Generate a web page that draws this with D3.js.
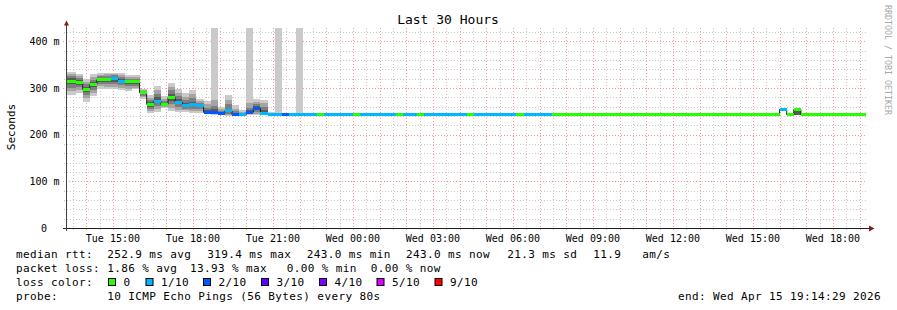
<!DOCTYPE html>
<html><head><meta charset="utf-8">
<script src="https://cdn.jsdelivr.net/npm/d3@7"></script>
<style>
body{margin:0;background:#fff}
svg{display:block}
text{font-family:"DejaVu Sans Mono",monospace;fill:#000}
</style>
</head><body>
<svg id="c" width="897" height="310"></svg>
<script>
// ---------------- data ----------------
const chartTitle = "Last 30 Hours";
const yLabel = "Seconds";
const watermark = "RRDTOOL / TOBI OETIKER";
const yTickValues = [0, 100, 200, 300, 400];           // ms
const yTickLabels = ["0", "100 m", "200 m", "300 m", "400 m"];
const xTickLabels = ["Tue 15:00","Tue 18:00","Tue 21:00","Wed 00:00","Wed 03:00",
                     "Wed 06:00","Wed 09:00","Wed 12:00","Wed 15:00","Wed 18:00"];
const lossLabels = ["0","1/10","2/10","3/10","4/10","5/10","9/10"];
const lossColors = ["#26ff00","#00b8ff","#0059ff","#5e00ff","#7e00ff","#dd00ff","#ff0000"];
const rttLegend = ["median rtt:", "252.9 ms avg", "319.4 ms max", "243.0 ms min", "243.0 ms now", "21.3 ms sd", "11.9   am/s"];
const lossLegend = ["packet loss:", "1.86 % avg", "13.93 % max", "0.00 % min", "0.00 % now"];
const probeLegend = ["probe:", "10 ICMP Echo Pings (56 Bytes) every 80s"];
const endLabel = "end: Wed Apr 15 19:14:29 2026";

// 16-minute steps, first step (index 0) = step -1 starting Tue 13:04
const firstStepIndex = -1;
const medianMs = [
  315,315,312,297,307,318,318,319.4,315,313,
  313,290,265,272,265,280,270,263,265,263,
  248,248,246,251,243,243,248,257,245,243,
  243,243,243,243,243,243,
  243,243,243,243,243,243,243,243,243,243,
  243,243,243,243,243,243,243,243,243,243,
  243,243,243,243,243,243,243,243,243,243,
  243,243,243,243,243,243,243,243,243,243,
  243,243,243,243,243,243,243,243,243,243,
  243,243,243,243,243,243,243,243,243,243,
  243,243,243,243,243,254,243,254,243,243,
  243,243,243,243,243,243,243,243
];
const lossLevel = [
  0,0,0,0,0,0,0,1,1,0,
  0,0,0,1,0,0,1,1,1,1,
  2,2,2,1,2,1,2,2,1,1,
  1,2,1,1,1,1,
  0,1,1,1,1,0,1,1,1,1,
  1,0,1,1,0,1,1,1,1,1,
  1,0,1,1,1,1,1,1,0,1,
  1,1,1,0,0,0,0,0,0,0,
  0,0,0,0,0,0,0,0,0,0,
  0,0,0,0,0,0,0,0,0,0,
  0,0,0,0,0,1,0,0,0,0,
  0,0,0,0,0,0,0,0
];
// smoke: sorted ping times (ms) for the steps that have visible smoke
const smokeStep = [-1,0,1,2,3,4,5,6,7,8,9,10,11,12,13,14,15,16,17,18,19,20,21,22,23,24,25,26,27,28,29,30,32,93,102];
const p1  = [285,285,290,271,283,299,297,297,296,294,297,276,247,249,257,251,249,249,246,246,244,243,242,241,242,242,243,242,242,242,243,243,243,243,243];
const p2  = [293,293,296,279,290,304,302,303,301,299,301,280,251,255,259,258,254,252,251,250,245,244,243,243,242,242,244,245,243,242,243,243,243,243,243];
const p3  = [300,300,302,286,296,309,308,309,306,304,305,283,255,261,261,266,260,256,256,255,246,245,244,245,243,243,245,249,244,243,243,243,243,243,243];
const p4  = [308,308,307,292,302,314,313,314,311,309,309,287,260,267,263,273,265,260,261,259,247,246,245,248,243,243,246,253,244,243,243,243,243,243,243];
const p7  = [321,321,318,303,313,322,322,324,319,317,317,293,270,280,268,288,276,268,271,266,253,255,248,256,246,245,252,261,252,244,244,243,243,243,254];
const p8  = [325,325,322,308,318,325,326,327,323,320,320,294,274,288,272,295,282,274,279,269,258,262,251,265,250,247,258,266,260,245,245,244,244,243,254];
const p9  = [330,330,326,313,324,329,330,330,327,324,324,295,279,296,277,302,289,281,287,272,265,275,255,275,256,249,268,271,268,247,247,245,245,243,254];
const p10 = [335,335,330,319,330,332,333,332,332,328,328,298,285,304,284,310,297,289,296,276,273,900,260,285,264,252,900,276,275,249,900,246,900,246,254];

// ---------------- layout ----------------
const svg = d3.select("#c");
const W = 897, H = 310;
const plot = {left: 66, right: 866, top: 28, bottom: 228};
const end = new Date(2026, 3, 15, 19, 14, 29);
const start = new Date(end.getTime() - 30 * 3600 * 1000);
const stepOrigin = new Date(2026, 3, 14, 13, 20, 0);
const STEP = 16 * 60 * 1000;
const stepTime = k => new Date(stepOrigin.getTime() + k * STEP);

const x = d3.scaleTime().domain([start, end]).range([plot.left, plot.right]);
const y = d3.scaleLinear().domain([0, 428.7]).range([plot.bottom, plot.top]);

svg.append("rect").attr("width", W).attr("height", H).attr("fill", "#fff");

svg.append("defs").append("clipPath").attr("id", "clip")
  .append("rect").attr("x", plot.left).attr("y", plot.top)
  .attr("width", plot.right - plot.left).attr("height", plot.bottom - plot.top);

// ---------------- grid ----------------
const grid = svg.append("g");
const minorV = d3.timeMinute.every(30).range(start, end).filter(d => d.getMinutes() === 30);
const majorV = d3.timeHour.every(1).range(start, end);
const minorH = d3.range(20, 429, 20).filter(v => v % 100 !== 0);
const majorH = [100, 200, 300, 400];
const px = v => Math.round(v) + 0.5;
grid.selectAll(".mv").data(minorV).enter().append("line")
  .attr("x1", d => px(x(d))).attr("x2", d => px(x(d)))
  .attr("y1", plot.top).attr("y2", plot.bottom + 2)
  .attr("stroke", "#c8c8c8").attr("stroke-dasharray", "1,2");
grid.selectAll(".mh").data(minorH).enter().append("line")
  .attr("x1", plot.left - 2).attr("x2", plot.right)
  .attr("y1", d => px(y(d))).attr("y2", d => px(y(d)))
  .attr("stroke", "#c8c8c8").attr("stroke-dasharray", "1,2");
grid.selectAll(".Mv").data(majorV).enter().append("line")
  .attr("x1", d => px(x(d))).attr("x2", d => px(x(d)))
  .attr("y1", plot.top).attr("y2", plot.bottom + 3)
  .attr("stroke", "#f09a9a").attr("stroke-dasharray", "1,2");
grid.selectAll(".Mh").data(majorH).enter().append("line")
  .attr("x1", plot.left - 3).attr("x2", plot.right)
  .attr("y1", d => px(y(d))).attr("y2", d => px(y(d)))
  .attr("stroke", "#f09a9a").attr("stroke-dasharray", "1,2");

// ---------------- smoke ----------------
const g = svg.append("g").attr("clip-path", "url(#clip)");
const bands = [
  {lo: p1, hi: p10, color: "#cacaca"},
  {lo: p2, hi: p9,  color: "#a4a4a4"},
  {lo: p3, hi: p8,  color: "#7e7e7e"},
  {lo: p4, hi: p7,  color: "#585858"}
];
bands.forEach(b => {
  g.append("g").selectAll("rect").data(smokeStep).enter().append("rect")
    .attr("x", k => x(stepTime(k)))
    .attr("width", k => x(stepTime(k + 1)) - x(stepTime(k)))
    .attr("y", (k, i) => y(b.hi[i]))
    .attr("height", (k, i) => Math.max(0, y(b.lo[i]) - y(b.hi[i])))
    .attr("fill", b.color).attr("shape-rendering", "crispEdges");
});

// ---------------- median line ----------------
const steps = medianMs.map((m, i) => ({k: i + firstStepIndex, m, loss: lossLevel[i]}));
const linePts = steps.map(s => [x(stepTime(s.k)), y(s.m)]);
linePts.push([x(stepTime(steps[steps.length - 1].k + 1)), y(steps[steps.length - 1].m)]);
g.append("path").attr("d", d3.line().curve(d3.curveStepAfter)(linePts))
  .attr("fill", "none").attr("stroke", "#202020").attr("stroke-width", 1);

g.append("g").selectAll("rect").data(steps).enter().append("rect")
  .attr("x", s => x(stepTime(s.k)))
  .attr("width", s => x(stepTime(s.k + 1)) - x(stepTime(s.k)))
  .attr("y", s => y(s.m) - 1.5).attr("height", 3)
  .attr("fill", s => lossColors[s.loss]).attr("shape-rendering", "crispEdges");

// ---------------- axes ----------------
const ax = svg.append("g");
ax.append("line").attr("x1", plot.left - 3).attr("x2", 869).attr("y1", 228.5).attr("y2", 228.5)
  .attr("stroke", "#222");
ax.append("line").attr("x1", 66.5).attr("x2", 66.5).attr("y1", 231).attr("y2", 25)
  .attr("stroke", "#444");
ax.append("path").attr("d", "M64,25.5L69,25.5L66.5,20.5Z").attr("fill", "#7f1f1f");
ax.append("path").attr("d", "M869,225.5L869,231.5L874.5,228.5Z").attr("fill", "#7f1f1f");

ax.selectAll(".yt").data(yTickValues).enter().append("text")
  .attr("x", (d, i) => i === 0 ? 47 : 59.5).attr("y", d => y(d) + 3.6)
  .attr("text-anchor", "end").attr("font-size", "10px").attr("xml:space", "preserve")
  .text((d, i) => yTickLabels[i]);

const xTickDates = xTickLabels.map((t, i) => new Date(2026, 3, 14, 15 + 3 * i, 0, 0));
ax.selectAll(".xt").data(xTickDates).enter().append("text")
  .attr("x", d => x(d)).attr("y", 241.5)
  .attr("text-anchor", "middle").attr("font-size", "10px")
  .text((d, i) => xTickLabels[i]);

// titles
svg.append("text").attr("x", 448).attr("y", 24).attr("text-anchor", "middle")
  .attr("font-size", "13px").text(chartTitle);
svg.append("text").attr("transform", "translate(15,127) rotate(-90)")
  .attr("text-anchor", "middle").attr("font-size", "11px").text(yLabel);
svg.append("text").attr("transform", "translate(885,5) rotate(90)")
  .attr("font-size", "8.3px").style("fill", "#a8a8a8").text(watermark);

// ---------------- legend ----------------
const lg = svg.append("g").attr("font-size", "11px").attr("letter-spacing", "0.38px");
const rttX = [16, 107.3, 207.3, 306.7, 406, 507.3, 593.3];
rttLegend.forEach((t, i) => lg.append("text").attr("x", rttX[i]).attr("y", 258)
  .attr("xml:space", "preserve").text(t));
const lossX = [16, 107.3, 190, 286.7, 370.7];
lossLegend.forEach((t, i) => lg.append("text").attr("x", lossX[i]).attr("y", 272)
  .attr("xml:space", "preserve").text(t));
lg.append("text").attr("x", 16).attr("y", 286).text("loss color:");
const boxX = [108.5, 146, 203.5, 261.5, 319.5, 377, 435];
lossLabels.forEach((t, i) => {
  lg.append("rect").attr("x", boxX[i]).attr("y", 278.5).attr("width", 7).attr("height", 7)
    .attr("fill", lossColors[i]).attr("stroke", "#000").attr("stroke-width", 1);
  lg.append("text").attr("x", boxX[i] + 15).attr("y", 286).text(t);
});
const probeX = [16, 107.3];
probeLegend.forEach((t, i) => lg.append("text").attr("x", probeX[i]).attr("y", 300).text(t));
lg.append("text").attr("x", 881).attr("y", 300).attr("text-anchor", "end").text(endLabel);
</script>
</body></html>
